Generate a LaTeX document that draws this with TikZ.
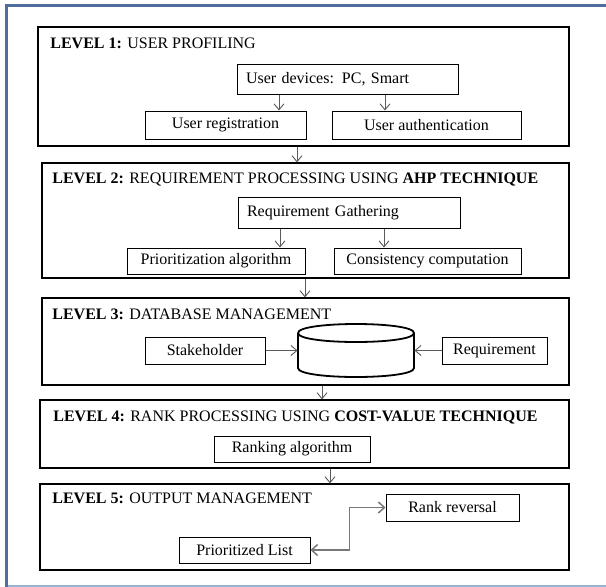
\documentclass[tikz,border=0pt]{standalone}
\usepackage{fontspec}
\setmainfont{Liberation Serif}
\usetikzlibrary{arrows.meta}
\definecolor{framedark}{RGB}{79,110,158}
\definecolor{framelight}{RGB}{149,179,215}
\definecolor{arrgrey}{RGB}{90,90,90}
\definecolor{linkgrey}{RGB}{120,120,120}

\begin{document}
\begin{tikzpicture}[x=1pt,y=-1pt,line width=.8pt,font=\fontsize{16}{19}\selectfont,
  level/.style={draw,line width=1.3pt,inner sep=0pt},
  item/.style={draw,line width=1pt,inner sep=0pt},
  itemleft/.style={item,inner xsep=9pt,align=left},
  title/.style={anchor=west,inner sep=0pt},
  arr/.style={draw=arrgrey,line width=.9pt,-{Straight Barb[length=6pt,width=10pt]}}]
\useasboundingbox (0,0) rectangle (606,587);
% frame
\draw[framedark,line width=3pt] (6,587)--(6,5)--(606,5);
\draw[framelight,line width=1.5pt] (7.5,586)--(606,586);
% level 1
\node[level,minimum width=531pt,minimum height=119pt] (lvl1) at (303.5,86.5) {};
\node[title] (t1) at (50,43) {\textbf{LEVEL 1:} USER PROFILING};
\node[itemleft,text width=203pt,minimum height=30pt] (dev) at (347.5,79) {User devices: PC, Smart};
\node[item,minimum width=161pt,minimum height=28pt] (reg) at (225.5,125) {User registration};
\node[item,minimum width=189pt,minimum height=28pt] (auth) at (426.5,125) {User authentication};
\coordinate (d1) at ([xshift=-68.5pt]dev.south);
\coordinate (d2) at ([xshift=37.5pt]dev.south);
\draw[arr] (d1)--(d1 |- reg.north);
\draw[arr] (d2)--(d2 |- auth.north);
% level 2
\node[level,minimum width=527pt,minimum height=115pt] (lvl2) at (305.5,220.5) {};
\node[title] (t2) at (52,179) {\textbf{LEVEL 2:} REQUIREMENT PROCESSING USING \textbf{AHP TECHNIQUE}};
\node[itemleft,text width=204pt,minimum height=31pt] (gath) at (349,212.5) {Requirement Gathering};
\node[item,minimum width=178pt,minimum height=26pt] (prio) at (216,261) {Prioritization algorithm};
\node[item,minimum width=187pt,minimum height=26pt] (cons) at (427.5,261) {Consistency computation};
\coordinate (g1) at ([xshift=-69pt]gath.south);
\coordinate (g2) at ([xshift=35pt]gath.south);
\draw[arr] (g1)--(g1 |- prio.north);
\draw[arr] (g2)--(g2 |- cons.north);
% level 3
\node[level,minimum width=527pt,minimum height=87pt] (lvl3) at (305.5,341.5) {};
\node[title] (t3) at (52,314) {\textbf{LEVEL 3:} DATABASE MANAGEMENT};
\node[item,minimum width=120pt,minimum height=27pt] (stake) at (205,350.5) {Stakeholder};
\node[item,minimum width=105pt,minimum height=27pt] (reqm) at (494.5,350.5) {Requirement};
\node[minimum width=116pt,minimum height=56pt,inner sep=0pt] (db) at (356,352) {};
\draw[line width=1.8pt] (298,333) .. controls (298,321) and (414,321) .. (414,333)
  .. controls (414,345) and (298,345) .. (298,333);
\draw[line width=1.8pt] (298,333)--(298,368) .. controls (298,380) and (414,380) .. (414,368)--(414,333);
\draw[arr] (stake.east)--(stake.east -| db.west);
\draw[arr] (reqm.west)--(reqm.west -| db.east);
% level 4
\node[level,minimum width=529pt,minimum height=68pt] (lvl4) at (304.5,434) {};
\node[title] (t4) at (53,417) {\textbf{LEVEL 4:} RANK PROCESSING USING \textbf{COST-VALUE TECHNIQUE}};
\node[item,minimum width=156pt,minimum height=26pt] (rankalg) at (292,449) {Ranking algorithm};
% level 5
\node[level,minimum width=529pt,minimum height=86pt] (lvl5) at (304.5,527) {};
\node[title] (t5) at (52,498) {\textbf{LEVEL 5:} OUTPUT MANAGEMENT};
\node[item,minimum width=133pt,minimum height=27pt] (rev) at (452.5,507.5) {Rank reversal};
\node[item,minimum width=131pt,minimum height=26pt] (plist) at (244.5,550) {Prioritized List};
\draw[draw=linkgrey,line width=1.5pt,{Straight Barb[length=6pt,width=11pt]}-{Straight Barb[length=6pt,width=11pt]}]
  (plist.east)--++(39,0) |- (rev.west);
% between levels
\coordinate (l1) at ([xshift=-6.5pt]lvl1.south);
\coordinate (l2) at ([xshift=-0.5pt]lvl2.south);
\coordinate (l3) at ([xshift=16.5pt]lvl3.south);
\coordinate (l4) at ([xshift=25.5pt]lvl4.south);
\draw[arr] (l1)--(l1 |- lvl2.north);
\draw[arr] (l2)--(l2 |- lvl3.north);
\draw[arr] (l3)--(l3 |- lvl4.north);
\draw[arr] (l4)--(l4 |- lvl5.north);
\end{tikzpicture}
\end{document}
